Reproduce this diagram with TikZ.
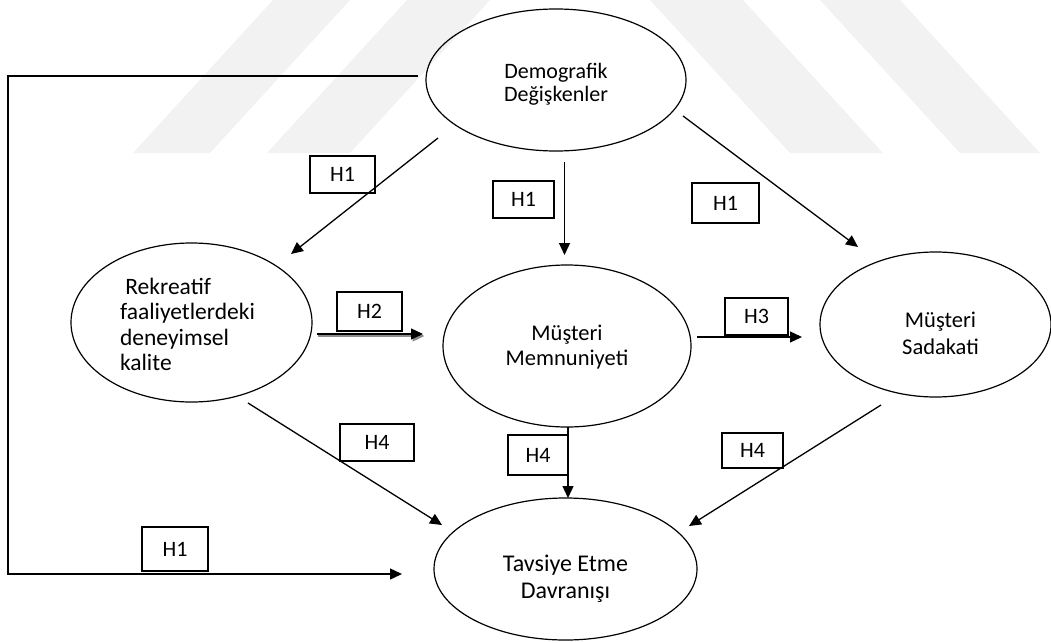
\documentclass[tikz,border=0pt]{standalone}
\usepackage{fontspec}
\setmainfont{Carlito}
\usetikzlibrary{arrows.meta,shapes.geometric,calc}
\begin{document}
\begin{tikzpicture}[x=1pt,y=-1pt,
  ell/.style={draw, ellipse, line width=1.2pt, inner sep=0pt},
  etxt/.style={align=center, inner sep=0pt, font=\fontsize{22.5}{25}\selectfont},
  hbox/.style={draw, line width=1.2pt, inner sep=0pt, font=\fontsize{22}{24}\selectfont},
  conn/.style={line width=1.3pt, -{Triangle[length=12pt,width=11pt]}},
  wm/.style={fill=black!5, draw=none}
]
\useasboundingbox (0,0) rectangle (1051,642);
% faint watermark stripes
\fill[wm] (133,153) -- (210,153) -- (350,0) -- (273,0) -- cycle;
\fill[wm] (267,153) -- (350,153) -- (490,0) -- (407,0) -- cycle;
\fill[wm] (790,153) -- (883,153) -- (743,0) -- (650,0) -- cycle;
\fill[wm] (960,153) -- (1040,153) -- (900,0) -- (820,0) -- cycle;

% ellipses
\node[ell, minimum width=260pt, minimum height=142pt] (demo) at (556,80) {};
\node[etxt, font=\fontsize{22}{23}\selectfont] (demotxt) at ([yshift=-4.5pt]demo.center) {Demografik\\Değişkenler};

\node[ell, minimum width=241pt, minimum height=159pt] (rek) at (191.5,322.5) {};
\node[etxt, align=left, font=\fontsize{23.5}{25.5}\selectfont] (rektxt) at ([xshift=-4pt,yshift=-2pt]rek.center) {\ Rekreatif\\faaliyetlerdeki\\deneyimsel\\kalite};

\node[ell, minimum width=248pt, minimum height=162pt] (mem) at (567,346) {};
\node[etxt] (memtxt) at ([yshift=-1.5pt]mem.center) {Müşteri\\Memnuniyeti};

\node[ell, minimum width=231pt, minimum height=145pt] (sad) at (935.5,324.5) {};
\node[etxt, font=\fontsize{22.5}{27}\selectfont] (sadtxt) at ([xshift=5pt,yshift=-9pt]sad.center) {Müşteri\\Sadakati};

\node[ell, minimum width=263pt, minimum height=142pt] (tav) at (565.5,569) {};
\node[etxt, font=\fontsize{24}{27}\selectfont] (tavtxt) at ([yshift=-9.5pt]tav.center) {Tavsiye Etme\\Davranışı};

% label boxes
\node[hbox, minimum width=65pt, minimum height=37pt] (h1a) at (342.5,174.5) {H1};
\node[hbox, minimum width=61pt, minimum height=37pt] (h1b) at (523.5,199.5) {H1};
\node[hbox, minimum width=67pt, minimum height=40pt] (h1c) at (725.5,203) {H1};
\node[hbox, minimum width=65pt, minimum height=39pt] (h2) at (369.5,311.5) {H2};
\node[hbox, minimum width=63pt, minimum height=37pt] (h3) at (756.5,316.5) {H3};
\node[hbox, minimum width=74pt, minimum height=37pt] (h4a) at (377,442.5) {H4};
\node[hbox, minimum width=60pt, minimum height=40pt] (h4b) at (538,455) {H4};
\node[hbox, minimum width=61pt, minimum height=35pt] (h4c) at (752.5,450.5) {H4};
\node[hbox, minimum width=66pt, minimum height=44pt] (h1d) at (175,549) {H1};

% connectors
\draw[conn] ([shift={(-118,58)}]demo.center) -- ([shift={(99.5,-68.5)}]rek.center);
\draw[conn] ([shift={(8.5,82)}]demo.center) -- ([shift={(-2.5,-91)}]mem.center);
\draw[conn] ([shift={(127,36)}]demo.center) -- ([shift={(-77.5,-77.5)}]sad.center);
% H2 arrow with shadow
\draw[conn, black!45] ([shift={(126.5,13.5)}]rek.center) -- ([shift={(-142.5,-10)}]mem.center);
\draw[conn] ([shift={(125.5,11.5)}]rek.center) -- ([shift={(-144,-12)}]mem.center);
\draw[conn] ([shift={(130,-9)}]mem.center) -- ([shift={(-133.5,12.5)}]sad.center);
\draw[conn] ([shift={(56.5,80.5)}]rek.center) -- ([shift={(-123.5,-44)}]tav.center);
\draw[conn] ([shift={(1,81)}]mem.center) -- ([shift={(2.5,-71)}]tav.center);
\draw[conn] ([shift={(-54.5,80.5)}]sad.center) -- ([shift={(123.5,-43)}]tav.center);
\draw[conn, line width=1.4pt] ([shift={(-138,-4)}]demo.center) -| ([shift={(-557.5,5)}]tav.center) -- ([shift={(-163.5,5)}]tav.center);
\end{tikzpicture}
\end{document}
